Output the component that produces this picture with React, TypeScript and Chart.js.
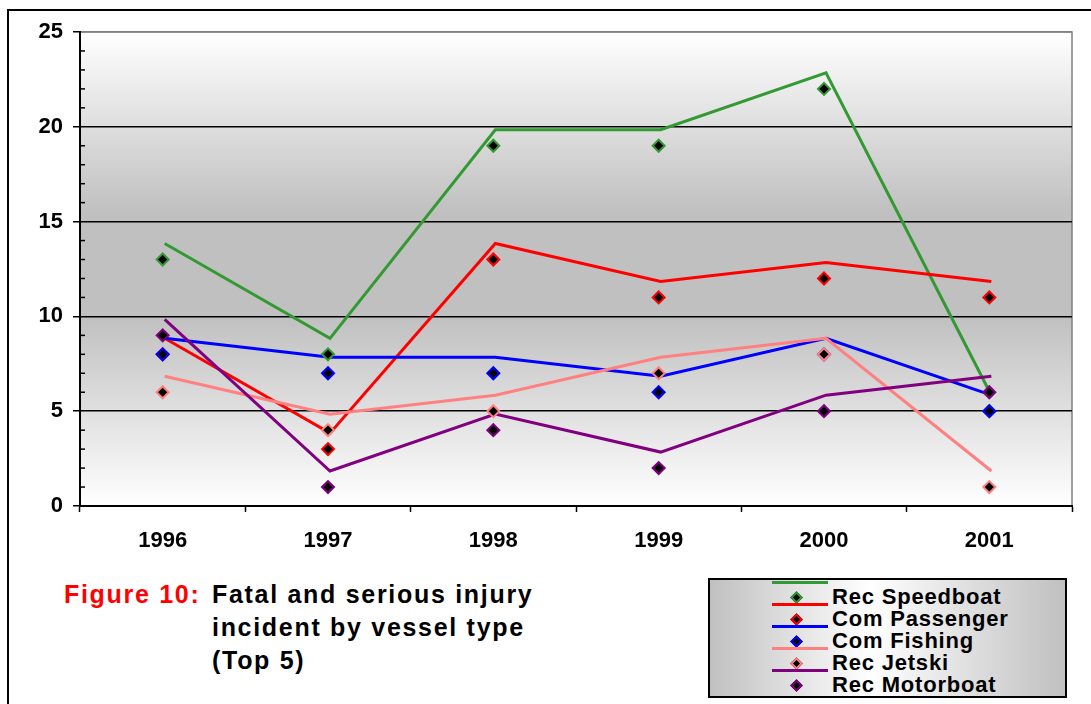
import React, { useEffect, useRef } from "react";
import { Chart, registerables } from "chart.js";

Chart.register(...registerables);

const YEARS = ["1996", "1997", "1998", "1999", "2000", "2001"];
const REC_SPEEDBOAT = [13, 8, 19, 19, 22, 5];
const COM_PASSENGER = [8, 3, 13, 11, 12, 11];
const COM_FISHING = [8, 7, 7, 6, 8, 5];
const REC_JETSKI = [6, 4, 5, 7, 8, 1];
const REC_MOTORBOAT = [9, 1, 4, 2, 5, 6];
const SERIES_NAMES = ["Rec Speedboat", "Com Passenger", "Com Fishing", "Rec Jetski", "Rec Motorboat"];
const SERIES_COLORS = ["#339933", "#ff0000", "#0000ff", "#ff8080", "#800080"];
const SERIES_DATA = [REC_SPEEDBOAT, COM_PASSENGER, COM_FISHING, REC_JETSKI, REC_MOTORBOAT];
const Y_MIN = 0;
const Y_MAX = 25;
const Y_STEP = 5;

const FONT = "'Liberation Sans', Arial, sans-serif";

const bgPlugin = {
  id: "plotBg",
  beforeDraw(chart: any) {
    const { ctx, chartArea: a } = chart;
    const g = ctx.createLinearGradient(0, a.top, 0, a.bottom);
    g.addColorStop(0, "#ffffff");
    g.addColorStop(0.38, "#c0c0c0");
    g.addColorStop(0.6, "#c0c0c0");
    g.addColorStop(1, "#ffffff");
    ctx.save();
    ctx.fillStyle = g;
    ctx.fillRect(a.left, a.top, a.right - a.left, a.bottom - a.top);
    ctx.strokeStyle = "#808080";
    ctx.lineWidth = 1.5;
    ctx.strokeRect(a.left, a.top, a.right - a.left, a.bottom - a.top);
    ctx.restore();
  },
  afterDatasetsDraw(chart: any) {
    const { ctx, chartArea: a } = chart;
    const ys = chart.scales.y;
    ctx.save();
    ctx.strokeStyle = "#000";
    ctx.lineWidth = 1.5;
    for (let v = Y_MIN + 1; v < Y_MAX; v++) {
      if (v % Y_STEP === 0) continue;
      const y = ys.getPixelForValue(v);
      ctx.beginPath();
      ctx.moveTo(a.left, y);
      ctx.lineTo(a.left + 5, y);
      ctx.stroke();
    }
    ctx.restore();
  },
};

const shiftPlugin = {
  id: "lineShift",
  beforeDatasetDraw(chart: any, args: any) {
    const ds: any = chart.data.datasets[args.index];
    if (ds.lineShift) {
      chart.ctx.save();
      chart.ctx.translate(2, -16);
    }
  },
  afterDatasetDraw(chart: any, args: any) {
    const ds: any = chart.data.datasets[args.index];
    if (ds.lineShift) chart.ctx.restore();
  },
};

export default function App() {
  const ref = useRef<HTMLCanvasElement>(null);

  useEffect(() => {
    if (!ref.current) return;
    const datasets: any[] = [];
    SERIES_DATA.forEach((data, i) => {
      datasets.push({
        label: SERIES_NAMES[i] + " line",
        data,
        lineShift: true,
        borderColor: SERIES_COLORS[i],
        borderWidth: 3,
        pointRadius: 0,
        fill: false,
        tension: 0,
        clip: false,
        order: 20 - i,
      });
      datasets.push({
        label: SERIES_NAMES[i],
        data,
        showLine: false,
        pointStyle: "rectRot",
        pointRadius: 6,
        pointBackgroundColor: "#000",
        pointBorderColor: SERIES_COLORS[i],
        pointBorderWidth: 2,
        order: 10 - i,
      });
    });
    const chart = new Chart(ref.current, {
      type: "line",
      data: { labels: YEARS, datasets },
      plugins: [bgPlugin, shiftPlugin],
      options: {
        animation: false,
        responsive: false,
        devicePixelRatio: 1,
        layout: { padding: { top: 32, right: 19, bottom: 0, left: 0 } },
        plugins: { legend: { display: false }, tooltip: { enabled: false } },
        scales: {
          x: {
            type: "category",
            offset: true,
            grid: { offset: true, drawOnChartArea: false, tickLength: 6, tickColor: "#000", tickWidth: 1.5 },
            border: { display: true, color: "#000", width: 2 },
            ticks: { color: "#000", font: { family: FONT, size: 22, weight: "bold" }, padding: 16, maxRotation: 0 },
            afterFit: (s: any) => {
              s.height = 64;
            },
          },
          y: {
            min: Y_MIN,
            max: Y_MAX,
            ticks: {
              stepSize: Y_STEP,
              color: "#000",
              font: { family: FONT, size: 22, weight: "bold" },
              padding: 10,
            },
            grid: {
              color: (c: any) => (c.tick && c.tick.value === Y_MAX ? "#808080" : "#000"),
              lineWidth: 1.5,
              tickLength: 7,
              tickColor: "#000",
              tickWidth: 1.5,
            },
            border: { display: true, color: "#000", width: 2 },
            afterFit: (s: any) => {
              s.width = 80;
            },
          },
        },
      } as any,
    });
    return () => chart.destroy();
  }, []);

  const legendRows = SERIES_NAMES.map((name, i) => (
    <React.Fragment key={name}>
      <div
        style={{
          position: "absolute",
          left: 772,
          top: 582 + 22 * i - 1.5,
          width: 56,
          height: 3,
          background: SERIES_COLORS[i],
        }}
      />
      <div
        style={{
          position: "absolute",
          left: 796 - 4.5,
          top: 597 + 22 * i - 4.5,
          width: 9,
          height: 9,
          boxSizing: "border-box",
          background: "#000",
          border: `2px solid ${SERIES_COLORS[i]}`,
          transform: "rotate(45deg)",
        }}
      />
      <div
        style={{
          position: "absolute",
          left: 832,
          top: 605 + 22 * i - 18.6,
          fontSize: 22,
          lineHeight: "22px",
          fontWeight: "bold",
          letterSpacing: "0.8px",
          whiteSpace: "nowrap",
          color: "#000",
        }}
      >
        {name}
      </div>
    </React.Fragment>
  ));

  const titleStyle: React.CSSProperties = {
    position: "absolute",
    top: 577.5,
    fontSize: 25,
    lineHeight: "33px",
    fontWeight: "bold",
    letterSpacing: "1.7px",
    whiteSpace: "nowrap",
  };

  return (
    <div
      style={{
        position: "absolute",
        left: 0,
        top: 0,
        width: 1091,
        height: 704,
        overflow: "hidden",
        background: "#fff",
        fontFamily: FONT,
      }}
    >
      <div
        style={{
          position: "absolute",
          left: 7,
          top: 9,
          width: 1100,
          height: 720,
          borderLeft: "2px solid #000",
          borderTop: "2px solid #000",
        }}
      />
      <canvas ref={ref} width={1091} height={570} style={{ position: "absolute", left: 0, top: 0 }} />
      <div style={{ ...titleStyle, left: 64, color: "#ff0000" }}>Figure 10:</div>
      <div style={{ ...titleStyle, left: 212, color: "#000" }}>
        <div>Fatal and serious injury</div>
        <div>incident by vessel type</div>
        <div>(Top 5)</div>
      </div>
      <div
        style={{
          position: "absolute",
          left: 708,
          top: 578,
          width: 359,
          height: 120,
          boxSizing: "border-box",
          border: "2px solid #000",
          background: "linear-gradient(to right, #c0c0c0 0%, #ffffff 45%, #c0c0c0 100%)",
        }}
      />
      {legendRows}
    </div>
  );
}
